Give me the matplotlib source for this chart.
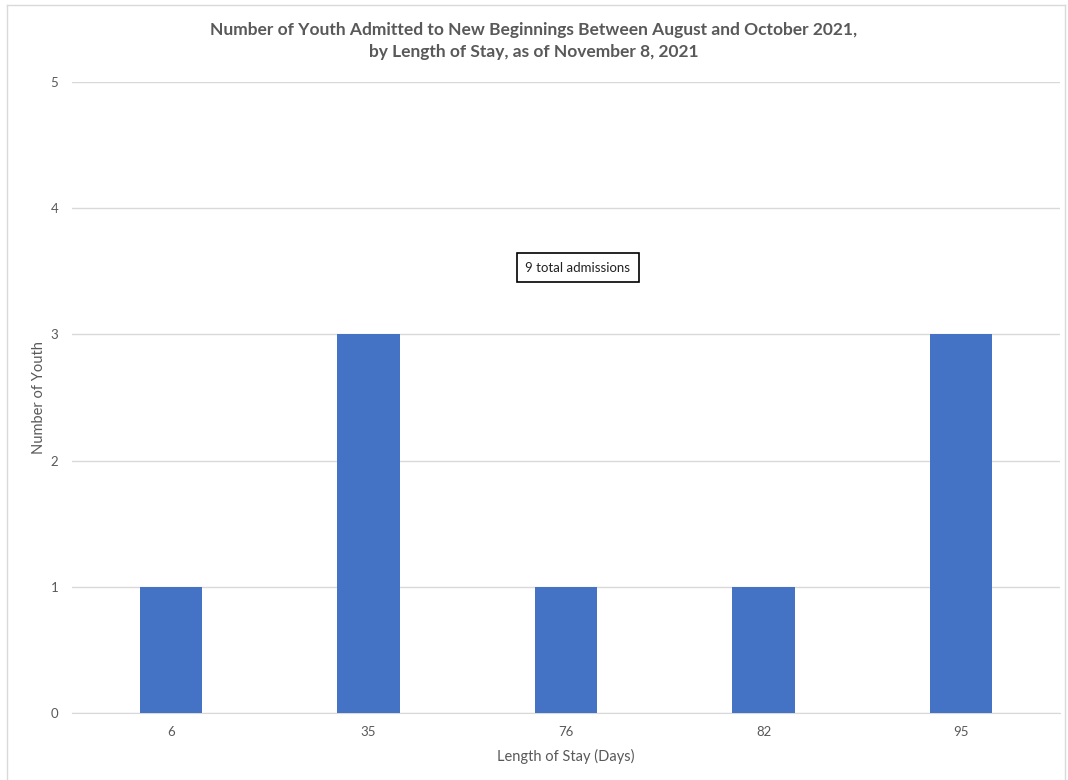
import matplotlib.pyplot as plt
from matplotlib.lines import Line2D

stay_days = ["6", "35", "76", "82", "95"]
youth_counts = [1, 3, 1, 1, 3]
y_ticks = [0, 1, 2, 3, 4, 5]

plt.rcParams['font.family'] = ['Lato', 'DejaVu Sans']
gray = "#595959"

fig = plt.figure(figsize=(10.68, 7.8), dpi=100)
ax = fig.add_axes([72 / 1068, 67 / 780, 988 / 1068, 631 / 780])

x = range(len(stay_days))
ax.bar(x, youth_counts, width=0.315, color="#4472C4", zorder=3)
ax.set_xlim(-0.5, len(stay_days) - 0.5)
ax.set_ylim(0, 5)
ax.set_xticks(list(x))
ax.set_xticklabels(stay_days)
ax.set_yticks(y_ticks)
ax.yaxis.grid(True, color="#D9D9D9", linewidth=1, zorder=0)
ax.tick_params(length=0, colors=gray, labelsize=9.5)
ax.tick_params(axis="y", pad=10)
ax.tick_params(axis="x", pad=9)
for s in ax.spines.values():
    s.set_visible(False)
ax.spines["bottom"].set_visible(True)
ax.spines["bottom"].set_color("#D9D9D9")

ax.set_xlabel("Length of Stay (Days)", color=gray, fontsize=10.5, labelpad=8)
ax.set_ylabel("Number of Youth", color=gray, fontsize=10.5)
ax.yaxis.set_label_coords(-26 / 988, 0.5)

ax.text(2.06, 3.53, "9 total admissions", ha="center", va="center", fontsize=9.5, color="#222222",
        bbox=dict(boxstyle="square,pad=0.65", facecolor="white", edgecolor="black", linewidth=1.2), zorder=5)

fig.text(0.5, 1 - 41 / 780, "Number of Youth Admitted to New Beginnings Between August and October 2021,\nby Length of Stay, as of November 8, 2021",
         ha="center", va="center", fontsize=12.5, fontweight="bold", color=gray, linespacing=1.4)

# outer chart frame
fc = "#D9D9D9"
fig.add_artist(Line2D([7 / 1068, 7 / 1068], [0, 1 - 5 / 780], transform=fig.transFigure, color=fc, lw=1))
fig.add_artist(Line2D([7 / 1068, 1065 / 1068], [1 - 5 / 780, 1 - 5 / 780], transform=fig.transFigure, color=fc, lw=1))
fig.add_artist(Line2D([1065 / 1068, 1065 / 1068], [0, 1 - 5 / 780], transform=fig.transFigure, color=fc, lw=1))

fig.savefig("out.png", dpi=100)
